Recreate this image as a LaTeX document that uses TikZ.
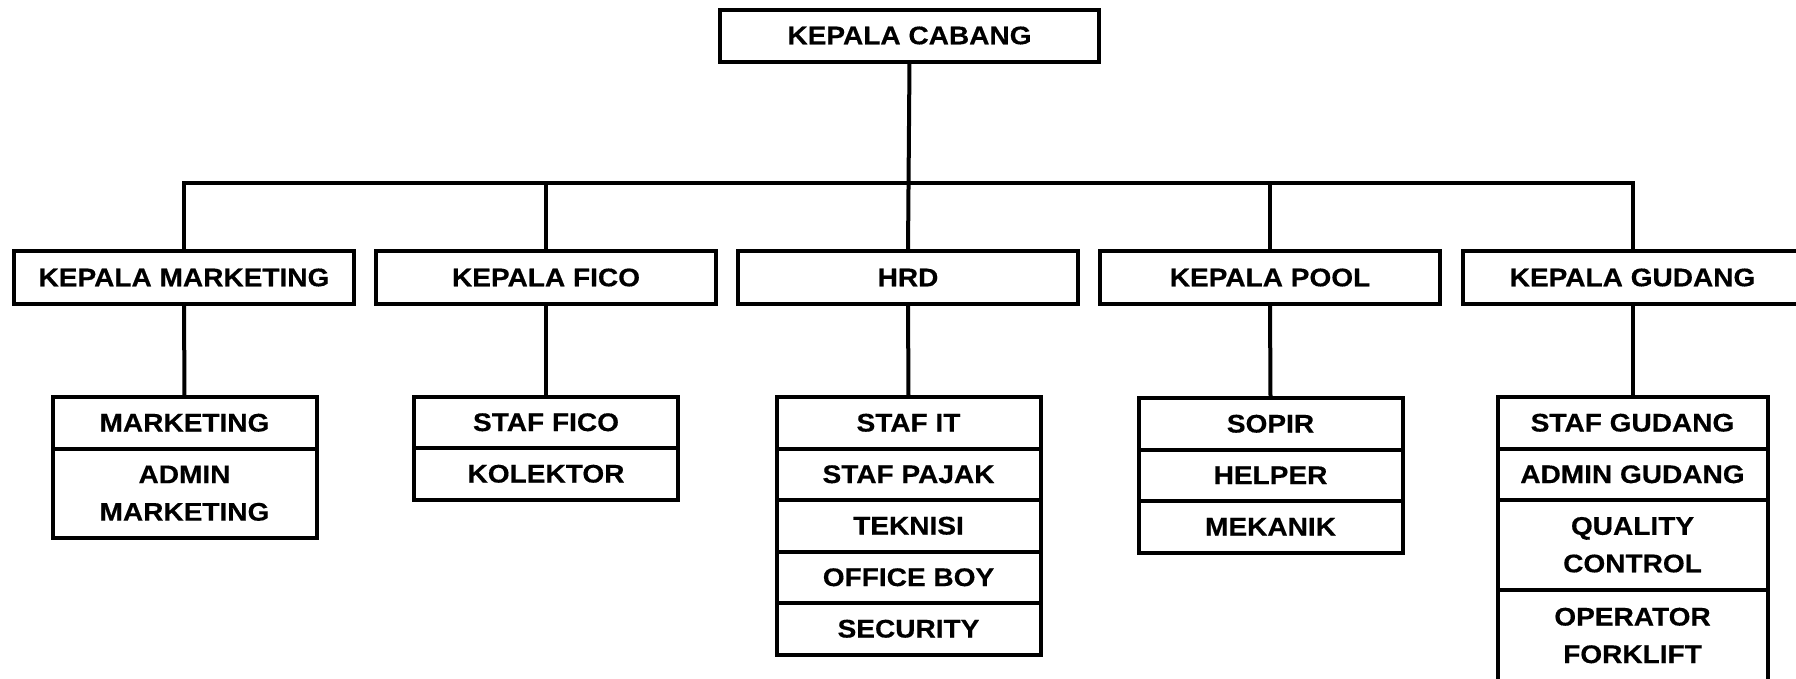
\documentclass[tikz,border=0pt]{standalone}
\usepackage{fontspec}
\newfontfamily\lab[FakeStretch=1.1,FakeBold=0.4]{Liberation Sans Bold}
\begin{document}
\begin{tikzpicture}[x=1pt,y=-1pt,
  box/.style={draw=black,line width=4pt,fill=white,inner sep=0pt,outer sep=0pt,
    font=\lab\fontsize{25.5}{37.5}\selectfont,align=center,text=black},
  head/.style={box,minimum width=340pt,minimum height=53pt},
  cell/.style={box,minimum width=264pt,minimum height=51.5pt,anchor=north},
  tall/.style={cell,minimum height=89.5pt},
  link/.style={draw=black,line width=4pt}]
\useasboundingbox (0,0) rectangle (1796,678);
\clip (0,0) rectangle (1796,678);
% top
\node[box,minimum width=379pt,minimum height=52pt] (top) at (909.5,35.5) {KEPALA CABANG};
% level 2
\node[head] (km) at (184,277.5) {KEPALA MARKETING};
\node[head] (kf) at (546,277.5) {KEPALA FICO};
\node[head] (hrd) at (908,277.5) {HRD};
\node[head] (kp) at (1270,277.5) {KEPALA POOL};
\node[head] (kg) at (1632.5,277.5) {KEPALA GUDANG};
% level 3 marketing
\node[cell] (m1) at (184.5,397) {MARKETING};
\node[tall] (m2) at (m1.south) {ADMIN\\MARKETING};
% fico
\node[cell] (f1) at (546,396.5) {STAF FICO};
\node[cell] (f2) at (f1.south) {KOLEKTOR};
% hrd
\node[cell] (h1) at (908.5,397) {STAF IT};
\node[cell] (h2) at (h1.south) {STAF PAJAK};
\node[cell] (h3) at (h2.south) {TEKNISI};
\node[cell] (h4) at (h3.south) {OFFICE BOY};
\node[cell] (h5) at (h4.south) {SECURITY};
% pool
\node[cell] (p1) at (1270.5,398) {SOPIR};
\node[cell] (p2) at (p1.south) {HELPER};
\node[cell] (p3) at (p2.south) {MEKANIK};
% gudang
\node[cell,minimum width=270pt] (g1) at (1632.5,397) {STAF GUDANG};
\node[cell,minimum width=270pt] (g2) at (g1.south) {ADMIN GUDANG};
\node[tall,minimum width=270pt] (g3) at (g2.south) {QUALITY\\CONTROL};
\node[tall,minimum width=270pt,minimum height=92pt] (g4) at (g3.south) {OPERATOR\\FORKLIFT};
% connectors
\coordinate (bus) at (908,183);
\draw[link] (top.south) -- (hrd.north);
\draw[link] (km.north) |- (bus) -| (kg.north);
\draw[link] (kf.north) -- (kf.north |- bus);
\draw[link] (kp.north) -- (kp.north |- bus);
\draw[link] (km.south) -- (m1.north);
\draw[link] (kf.south) -- (f1.north);
\draw[link] (hrd.south) -- (h1.north);
\draw[link] (kp.south) -- (p1.north);
\draw[link] (kg.south) -- (g1.north);
\end{tikzpicture}
\end{document}
